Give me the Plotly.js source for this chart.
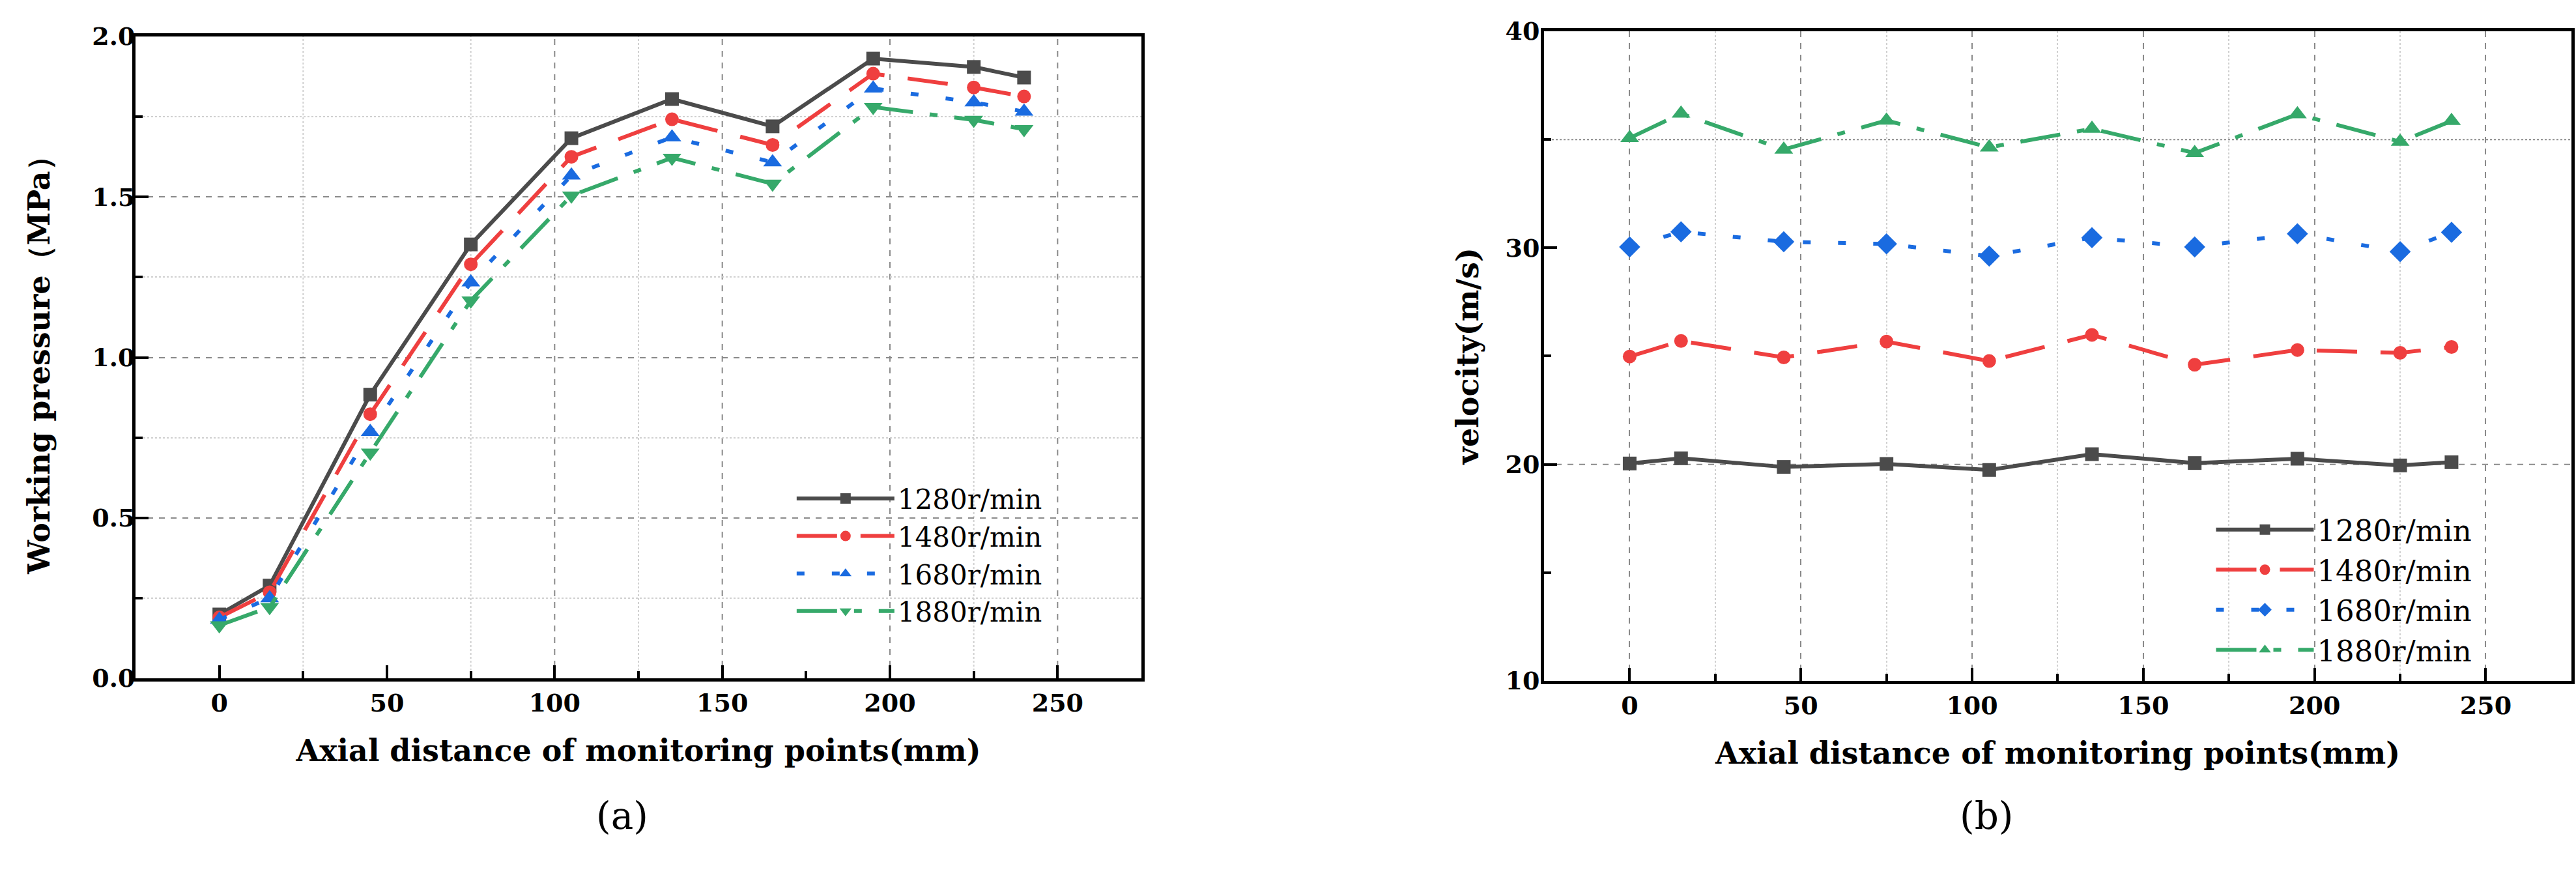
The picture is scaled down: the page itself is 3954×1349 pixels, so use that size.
<!DOCTYPE html>
<html>
<head>
<meta charset="utf-8">
<script src="https://cdn.plot.ly/plotly-3.0.1.min.js"></script>
<style>
  html, body { margin: 0; padding: 0; background: #fff; }
  #chart { width: 3954px; height: 1349px; }
</style>
</head>
<body>
<div id="chart"></div>
<script>
// monitoring points along the axis (mm)
var distance = [0, 15, 45, 75, 105, 135, 165, 195, 225, 240];
var seriesNames = ["1280r/min", "1480r/min", "1680r/min", "1880r/min"];

// (a) working pressure, MPa
var pressure1280 = [0.199, 0.289, 0.884, 1.352, 1.683, 1.805, 1.720, 1.931, 1.905, 1.872];
var pressure1480 = [0.190, 0.268, 0.823, 1.290, 1.625, 1.742, 1.662, 1.884, 1.841, 1.813];
var pressure1680 = [0.183, 0.250, 0.768, 1.234, 1.567, 1.686, 1.608, 1.838, 1.795, 1.766];
var pressure1880 = [0.165, 0.222, 0.703, 1.177, 1.504, 1.622, 1.541, 1.780, 1.740, 1.711];

// (b) velocity, m/s
var velocity1280 = [20.04, 20.28, 19.88, 20.02, 19.74, 20.47, 20.06, 20.26, 19.95, 20.10];
var velocity1480 = [24.98, 25.70, 24.94, 25.67, 24.77, 25.98, 24.60, 25.28, 25.15, 25.42];
var velocity1680 = [30.04, 30.74, 30.28, 30.18, 29.62, 30.47, 30.04, 30.65, 29.82, 30.72];
var velocity1880 = [35.07, 36.20, 34.54, 35.88, 34.64, 35.50, 34.38, 36.17, 34.90, 35.86];

// grid lines that are actually visible in the figure
var gridMajorA = [100, 150, 200, 250];
var gridMinorA = [25, 75, 125, 225];
var gridYB = [20, 35];

var colors = ["#4b4b4b", "#ef3f3f", "#1a6be0", "#36a96a"];
var dashes = ["solid", "62px,36px", "12px,42px", "62px,26px,12px,26px"];
var symbolsA = ["square", "circle", "triangle-up", "triangle-down"];
var symbolsB = ["square", "circle", "diamond", "triangle-up"];
var markerSizes = [21, 21, 25, 25];

var serif = "DejaVu Serif, serif";
var gridDark = "#8a8a8a";
var gridLight = "#d0d0d0";

function makeTraces(values, symbols, xa, ya, legendId) {
  return values.map(function(v, i) {
    return {
      type: "scatter",
      mode: "lines+markers",
      name: seriesNames[i],
      x: distance,
      y: v,
      xaxis: xa,
      yaxis: ya,
      legend: legendId,
      line: { color: colors[i], width: 6, dash: dashes[i] },
      marker: { symbol: symbols[i], size: markerSizes[i], color: colors[i] }
    };
  });
}

var traces = makeTraces([pressure1280, pressure1480, pressure1680, pressure1880], symbolsA, "x", "y", "legend")
  .concat(makeTraces([velocity1280, velocity1480, velocity1680, velocity1880], symbolsB, "x2", "y2", "legend2"));

var tickFont = { family: serif, size: 38, color: "#000", weight: "bold" };
var titleFont = { family: serif, size: 46, color: "#000", weight: "bold" };

function frame(extra) {
  var ax = {
    ticks: "inside",
    ticklen: 20,
    tickwidth: 4,
    tickcolor: "#000",
    showline: true,
    linewidth: 5,
    linecolor: "#000",
    mirror: true,
    zeroline: false,
    tickfont: tickFont
  };
  Object.keys(extra).forEach(function(k) { ax[k] = extra[k]; });
  return ax;
}

function xAxis(domain, anchor, nativeGrid) {
  return frame({
    domain: domain,
    anchor: anchor,
    range: [-25, 275],
    dtick: 50,
    tick0: 0,
    showgrid: nativeGrid,
    gridcolor: gridDark,
    gridwidth: 2,
    griddash: "dash",
    minor: { dtick: 25, ticks: "inside", ticklen: 11, tickwidth: 4, tickcolor: "#000",
             showgrid: nativeGrid, gridcolor: gridLight, gridwidth: 2, griddash: "dot" },
    title: { text: "Axial distance of monitoring points(mm)", standoff: 38, font: titleFont }
  });
}

function vline(v, dark) {
  return { type: "line", xref: "x", yref: "y domain", x0: v, x1: v, y0: 0, y1: 1, layer: "below",
           line: { color: dark ? gridDark : gridLight, width: 2, dash: dark ? "dash" : "dot" } };
}

var shapes = gridMajorA.map(function(v) { return vline(v, true); })
  .concat(gridMinorA.map(function(v) { return vline(v, false); }))
  .concat(gridYB.map(function(v) {
    return { type: "line", xref: "x2 domain", yref: "y2", x0: 0, x1: 1, y0: v, y1: v, layer: "below",
             line: { color: gridDark, width: 2, dash: v === 20 ? "dash" : "dot" } };
  }));

var layout = {
  width: 3954,
  height: 1349,
  paper_bgcolor: "#fff",
  plot_bgcolor: "#fff",
  margin: { l: 0, r: 0, t: 0, b: 0 },
  showlegend: true,
  xaxis: xAxis([0.0526, 0.4431], "y", false),
  yaxis: frame({
    domain: [0.2283, 0.9585],
    anchor: "x",
    range: [0, 2],
    dtick: 0.5,
    tickformat: ".1f",
    ticklabelstandoff: -12,
    showgrid: true,
    gridcolor: gridDark,
    gridwidth: 2,
    griddash: "dash",
    minor: { dtick: 0.25, ticks: "inside", ticklen: 11, tickwidth: 4, tickcolor: "#000",
             showgrid: true, gridcolor: gridLight, gridwidth: 2, griddash: "dot" },
    title: { text: "Working pressure（MPa）", standoff: 52, font: titleFont }
  }),
  xaxis2: xAxis([0.5994, 0.9982], "y2", true),
  yaxis2: frame({
    domain: [0.2254, 0.9644],
    anchor: "x2",
    range: [10, 40],
    dtick: 10,
    ticklabelstandoff: -6,
    showgrid: false,
    minor: { dtick: 5, ticks: "inside", ticklen: 11, tickwidth: 4, tickcolor: "#000", showgrid: false },
    title: { text: "velocity(m/s)", standoff: 28, font: titleFont }
  }),
  legend: {
    x: 0.308, y: 0.458, xanchor: "left", yanchor: "top",
    bgcolor: "rgba(0,0,0,0)",
    itemwidth: 150,
    tracegroupgap: 0,
    font: { family: serif, size: 42, color: "#000" }
  },
  legend2: {
    x: 0.859, y: 0.424, xanchor: "left", yanchor: "top",
    bgcolor: "rgba(0,0,0,0)",
    itemwidth: 150,
    tracegroupgap: 0,
    font: { family: serif, size: 45, color: "#000" }
  },
  shapes: shapes,
  annotations: [
    { text: "(a)", xref: "paper", yref: "paper", x: 0.231, y: 0.045, showarrow: false,
      font: { family: serif, size: 58, color: "#000" } },
    { text: "(b)", xref: "paper", yref: "paper", x: 0.782, y: 0.045, showarrow: false,
      font: { family: serif, size: 58, color: "#000" } }
  ]
};

Plotly.newPlot("chart", traces, layout, { displayModeBar: false, staticPlot: true });
</script>
</body>
</html>
